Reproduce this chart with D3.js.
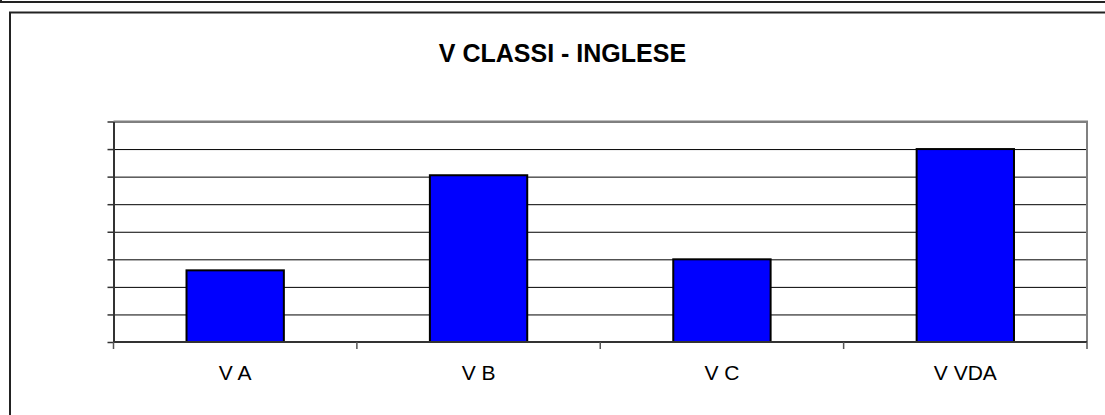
<!DOCTYPE html>
<html>
<head>
<meta charset="utf-8">
<script src="https://cdn.jsdelivr.net/npm/d3@7"></script>
<style>
  body { margin: 0; background: #fff; }
  svg { display: block; font-family: "Liberation Sans", Arial, sans-serif; }
</style>
</head>
<body>
<svg id="chart" width="1105" height="415"></svg>
<script>
"use strict";

// dati del grafico
var classi = ["V A", "V B", "V C", "V VDA"];
var valori = [2.6, 6.05, 3, 7];
var yTicks = [0, 1, 2, 3, 4, 5, 6, 7, 8];
var titolo = "V CLASSI - INGLESE";

var svg = d3.select("#chart");

// riquadro precedente (solo il bordo inferiore è visibile)
svg.append("rect")
  .attr("x", 1).attr("y", -20)
  .attr("width", 1120).attr("height", 22)
  .attr("fill", "none")
  .attr("stroke", "#222")
  .attr("stroke-width", 2);

// riquadro del grafico
var frame = { x: 10, y: 12.5, w: 1105, h: 420 };
svg.append("rect")
  .attr("x", frame.x).attr("y", frame.y)
  .attr("width", frame.w).attr("height", frame.h)
  .attr("fill", "#fff")
  .attr("stroke", "#222")
  .attr("stroke-width", 2);

var plot = { left: 113.5, top: 121.5, right: 1087, bottom: 342 };

var x = d3.scaleBand()
  .domain(classi)
  .range([plot.left, plot.right])
  .paddingInner(0.6)
  .paddingOuter(0.3);

var y = d3.scaleLinear()
  .domain([0, 8])
  .range([plot.bottom, plot.top]);

// griglia orizzontale
svg.append("g")
  .attr("class", "grid")
  .attr("transform", "translate(" + plot.left + ",0)")
  .call(d3.axisLeft(y).tickValues(yTicks).tickSize(-(plot.right - plot.left)).tickFormat(""))
  .call(function(g) { g.select(".domain").remove(); })
  .selectAll("line")
  .attr("stroke", "#000")
  .attr("stroke-width", 1);

// bordo superiore e destro dell'area del grafico
svg.append("path")
  .attr("d", "M" + plot.left + "," + plot.top + "H" + plot.right + "V" + plot.bottom)
  .attr("fill", "none")
  .attr("stroke", "#808080")
  .attr("stroke-width", 2);

// barre
svg.selectAll("rect.bar")
  .data(valori)
  .enter()
  .append("rect")
  .attr("class", "bar")
  .attr("x", function(d, i) { return x(classi[i]); })
  .attr("y", function(d) { return y(d); })
  .attr("width", x.bandwidth())
  .attr("height", function(d) { return y(0) - y(d); })
  .attr("fill", "#0000ff")
  .attr("stroke", "#000")
  .attr("stroke-width", 2);

// asse y (tacche senza etichette)
svg.append("g")
  .attr("transform", "translate(" + plot.left + ",0)")
  .call(d3.axisLeft(y).tickValues(yTicks).tickSize(6).tickSizeOuter(0).tickFormat(""))
  .call(function(g) {
    g.select(".domain").attr("stroke", "#333").attr("stroke-width", 2);
    g.selectAll("line").attr("stroke", "#333").attr("stroke-width", 1.5);
  });

// asse x: tacche ai confini delle categorie
var confini = d3.range(classi.length + 1).map(function(i) {
  return plot.left + i * (plot.right - plot.left) / classi.length;
});
var xAxis = svg.append("g").attr("class", "x-axis");
xAxis.append("line")
  .attr("x1", plot.left).attr("x2", plot.right)
  .attr("y1", plot.bottom).attr("y2", plot.bottom)
  .attr("stroke", "#333")
  .attr("stroke-width", 2);
xAxis.selectAll("line.tick")
  .data(confini)
  .enter()
  .append("line")
  .attr("class", "tick")
  .attr("x1", function(d) { return d; })
  .attr("x2", function(d) { return d; })
  .attr("y1", plot.bottom)
  .attr("y2", plot.bottom + 7)
  .attr("stroke", "#555")
  .attr("stroke-width", 1.5);

// etichette delle categorie
xAxis.selectAll("text")
  .data(classi)
  .enter()
  .append("text")
  .attr("x", function(d) { return x(d) + x.bandwidth() / 2; })
  .attr("y", 380)
  .attr("text-anchor", "middle")
  .attr("font-size", "21px")
  .attr("fill", "#000")
  .text(function(d) { return d; });

// titolo
svg.append("text")
  .attr("x", frame.x + frame.w / 2)
  .attr("y", 62)
  .attr("text-anchor", "middle")
  .attr("font-size", "25px")
  .attr("font-weight", "bold")
  .attr("fill", "#000")
  .text(titolo);
</script>
</body>
</html>
